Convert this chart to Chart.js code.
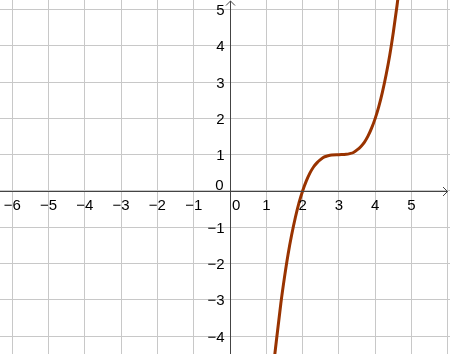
<!DOCTYPE html>
<html>
<head>
<meta charset="utf-8">
<script src="https://cdn.jsdelivr.net/npm/chart.js@4"></script>
<style>
  html, body { margin: 0; padding: 0; background: #fff; }
  #wrap { width: 450px; height: 354px; }
</style>
</head>
<body>
<div id="wrap"><canvas id="graph" width="450" height="354"></canvas></div>
<script>
// points
var curveX = [1.2, 1.25, 1.4, 1.5, 1.6, 1.7, 1.8, 1.9, 2.0, 2.1, 2.2, 2.3, 2.4, 2.5, 2.6, 2.7, 2.8, 3.0,
              3.2, 3.3, 3.4, 3.5, 3.6, 3.7, 3.8, 3.9, 4.0, 4.1, 4.2, 4.3, 4.4, 4.5, 4.6, 4.65];
var curveY = [-4.8, -4.36, -3.10, -2.38, -1.74, -1.20, -0.73, -0.33, 0.00, 0.27, 0.49, 0.66, 0.78, 0.87, 0.94, 0.97, 0.99, 1.00,
              1.01, 1.03, 1.06, 1.13, 1.22, 1.34, 1.51, 1.73, 2.00, 2.33, 2.73, 3.20, 3.74, 4.38, 5.10, 5.50];

// axis ticks / labels
var xTicks = [-6, -5, -4, -3, -2, -1, 0, 1, 2, 3, 4, 5, 6];
var yTicks = [-4, -3, -2, -1, 0, 1, 2, 3, 4, 5];
var xLabels = [-6, -5, -4, -3, -2, -1, 1, 2, 3, 4, 5];
var yLabels = [-4, -3, -2, -1, 1, 2, 3, 4, 5];

var pts = curveX.map(function(x, i){ return {x: x, y: curveY[i]}; });

function fmt(v){
  return v < 0 ? "\u2212" + Math.abs(v) : String(v);
}

// draws axes through origin, arrows and the numbers
var axesPlugin = {
  id: 'axesThroughOrigin',
  afterDatasetsDraw: function(chart){
    var ctx = chart.ctx;
    var xs = chart.scales.x, ys = chart.scales.y;
    var area = chart.chartArea;
    var ox = Math.round(xs.getPixelForValue(0)) + 0.5;
    var oy = Math.round(ys.getPixelForValue(0)) + 0.5;
    ctx.save();
    ctx.strokeStyle = '#444';
    ctx.lineWidth = 1;
    ctx.beginPath();
    ctx.moveTo(area.left, oy); ctx.lineTo(area.right - 2.5, oy);
    ctx.moveTo(ox, area.bottom); ctx.lineTo(ox, area.top + 1);
    // arrows
    ctx.moveTo(area.right - 7, oy - 4.5); ctx.lineTo(area.right - 2.5, oy); ctx.lineTo(area.right - 7, oy + 4.5);
    ctx.moveTo(ox - 4.5, area.top + 5.5); ctx.lineTo(ox, area.top + 1); ctx.lineTo(ox + 4.5, area.top + 5.5);
    ctx.stroke();

    ctx.fillStyle = '#000';
    ctx.font = '15px "Liberation Sans", Arial, sans-serif';
    ctx.textAlign = 'center';
    ctx.textBaseline = 'alphabetic';
    xLabels.forEach(function(v){
      ctx.fillText(fmt(v), xs.getPixelForValue(v), oy + 18);
    });
    ctx.textAlign = 'right';
    yLabels.forEach(function(v){
      ctx.fillText(fmt(v), ox - 6, ys.getPixelForValue(v) + 5.5);
    });
    // the two zeros
    ctx.fillText('0', ox - 7, oy - 1.5);
    ctx.textAlign = 'left';
    ctx.fillText('0', ox + 1.5, oy + 18);
    ctx.restore();
  }
};

new Chart(document.getElementById('graph'), {
  type: 'scatter',
  data: {
    datasets: [{
      data: pts,
      showLine: true,
      borderColor: '#993300',
      borderWidth: 3,
      pointRadius: 0,
      cubicInterpolationMode: 'monotone'
    }]
  },
  options: {
    responsive: false,
    animation: false,
    devicePixelRatio: 1,
    layout: { padding: 0 },
    plugins: { legend: { display: false }, tooltip: { enabled: false } },
    scales: {
      x: {
        type: 'linear', min: -6.336, max: 6.06,
        afterBuildTicks: function(s){ s.ticks = xTicks.map(function(v){ return {value: v}; }); },
        ticks: { display: false },
        grid: { color: '#c8c8c8', drawTicks: false, lineWidth: 1 },
        border: { display: false }
      },
      y: {
        type: 'linear', min: -4.49, max: 5.26,
        afterBuildTicks: function(s){ s.ticks = yTicks.map(function(v){ return {value: v}; }); },
        ticks: { display: false },
        grid: { color: '#c8c8c8', drawTicks: false, lineWidth: 1 },
        border: { display: false }
      }
    }
  },
  plugins: [axesPlugin]
});
</script>
</body>
</html>
